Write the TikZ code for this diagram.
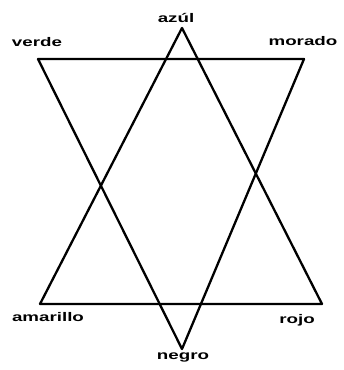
\documentclass[tikz,border=0pt]{standalone}
\usepackage{fontspec}
\setmainfont[FakeStretch=1.5]{Liberation Sans}
\begin{document}
\begin{tikzpicture}[x=1pt,y=1pt,
  lbl/.style={font=\fontsize{12.5}{14}\selectfont\bfseries, inner sep=0pt, anchor=base},
  edge/.style={line width=2.3pt, line join=round}]
\useasboundingbox (0,0) rectangle (344,370);
\coordinate (azul) at (182,342);
\coordinate (verde) at (38,311);
\coordinate (morado) at (304,311);
\coordinate (amarillo) at (40,66);
\coordinate (rojo) at (322,66);
\coordinate (negro) at (182,21);
\draw[edge] (azul) -- (amarillo) -- (rojo) -- cycle;
\draw[edge] (verde) -- (morado) -- (negro) -- cycle;
\node[lbl] (tazul) at (176,347) {azúl};
\node[lbl] (tverde) at (37,323) {verde};
\node[lbl] (tmorado) at (303,324) {morado};
\node[lbl] (tamarillo) at (48,48) {amarillo};
\node[lbl] (trojo) at (297,46) {rojo};
\node[lbl] (tnegro) at (183,10) {negro};
\end{tikzpicture}
\end{document}
